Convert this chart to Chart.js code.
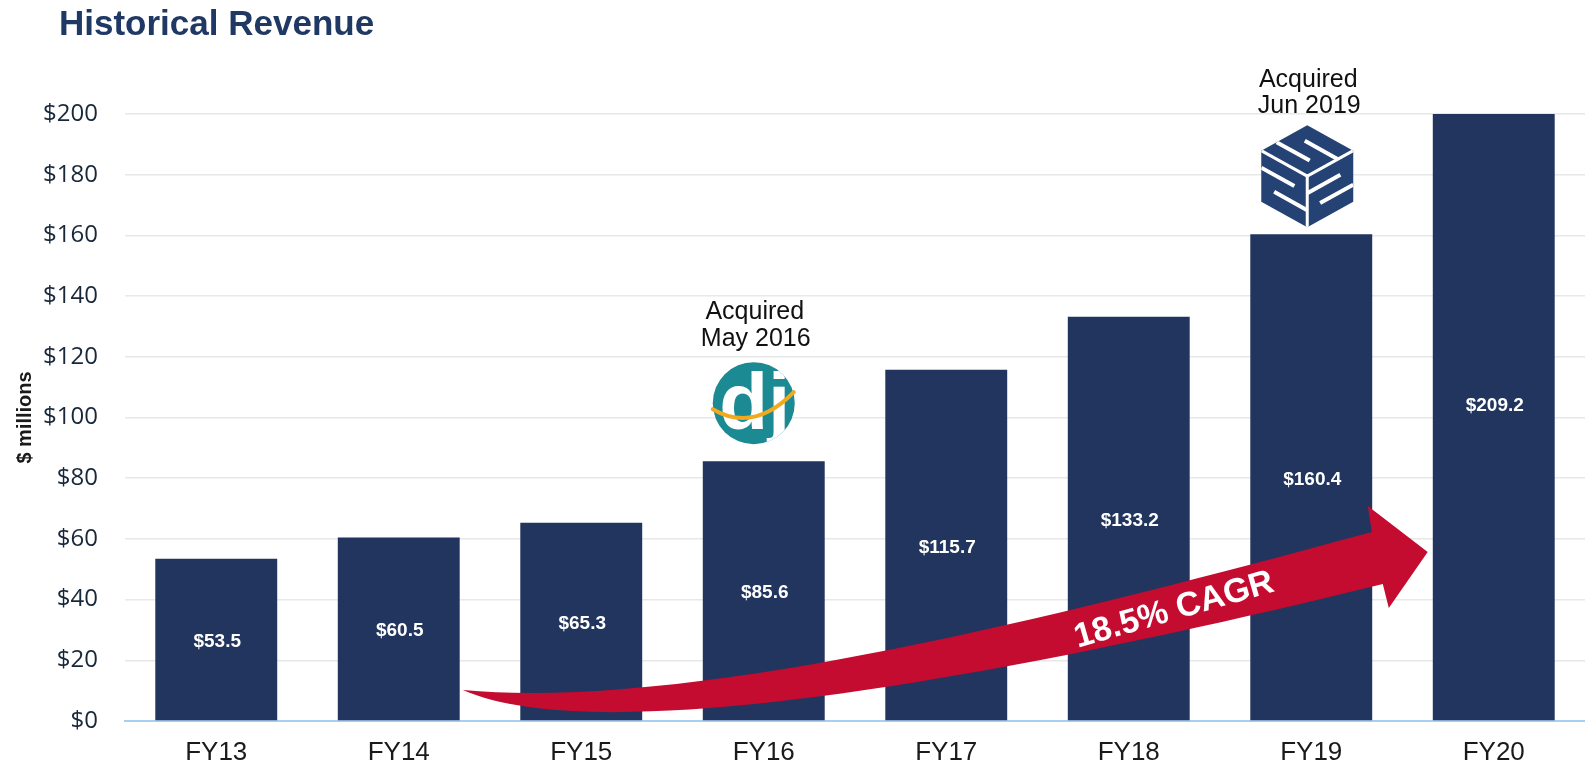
<!DOCTYPE html>
<html>
<head>
<meta charset="utf-8">
<script src="https://cdn.jsdelivr.net/npm/chart.js@4.4.1/dist/chart.umd.min.js"></script>
<style>
html,body{margin:0;padding:0;background:#ffffff;overflow:hidden}
canvas{display:block}
</style>
</head>
<body>
<canvas id="c" width="1585" height="769"></canvas>
<script>
// ---- data ----
const categories = ['FY13', 'FY14', 'FY15', 'FY16', 'FY17', 'FY18', 'FY19', 'FY20'];
const revenue = [53.5, 60.5, 65.3, 85.6, 115.7, 133.2, 160.4, 209.2];
const yTickValues = [0, 20, 40, 60, 80, 100, 120, 140, 160, 180, 200];
const acquisitionCats = ['FY16', 'FY19'];
const acquisitionText = [['Acquired', 'May 2016'], ['Acquired', 'Jun 2019']];
const acquisitionLogos = ['dj', 'sss'];
const cagrText = '18.5% CAGR';
const chartTitle = 'Historical Revenue';
const yAxisTitle = '$ millions';

const SANS = '"Liberation Sans", Arial, sans-serif';
const NAVY = '#21355E';

function fmt(v) { return '$' + v.toFixed(1); }

function drawDj(ctx, cx, cy) {
  ctx.save();
  ctx.beginPath();
  ctx.arc(cx, cy, 41, 0, Math.PI * 2);
  ctx.fillStyle = '#1C8A93';
  ctx.fill();
  ctx.clip();
  ctx.fillStyle = '#ffffff';
  ctx.font = 'bold 80px "Liberation Sans", sans-serif';
  ctx.textAlign = 'center';
  ctx.textBaseline = 'alphabetic';
  ctx.fillText('dj', cx + 1, cy + 26);
  ctx.restore();
  ctx.save();
  ctx.beginPath();
  ctx.moveTo(cx - 41, cy + 6);
  ctx.quadraticCurveTo(cx, cy + 30, cx + 40, cy - 11);
  ctx.strokeStyle = '#F2A91C';
  ctx.lineWidth = 4;
  ctx.lineCap = 'round';
  ctx.stroke();
  ctx.restore();
}

function drawSss(ctx, cx, cy) {
  const ry = 51, rx = 46;
  const V = [
    [cx, cy - ry], [cx + rx, cy - ry / 2], [cx + rx, cy + ry / 2],
    [cx, cy + ry], [cx - rx, cy + ry / 2], [cx - rx, cy - ry / 2]
  ];
  const C = [cx, cy];
  ctx.save();
  ctx.beginPath();
  V.forEach((p, i) => i ? ctx.lineTo(p[0], p[1]) : ctx.moveTo(p[0], p[1]));
  ctx.closePath();
  ctx.fillStyle = '#244273';
  ctx.fill();
  ctx.clip();
  ctx.strokeStyle = '#ffffff';
  ctx.lineCap = 'butt';
  const seg = (a, b, w) => { ctx.lineWidth = w; ctx.beginPath(); ctx.moveTo(a[0], a[1]); ctx.lineTo(b[0], b[1]); ctx.stroke(); };
  // face dividers
  seg(C, V[5], 3);
  seg(C, V[1], 3);
  seg(C, V[3], 3);
  // block "S" slots in each face: origin o, slot offset axis a, slot direction b
  const face = (o, a, b) => {
    const pt = (s, t) => [o[0] + a[0] * s + b[0] * t, o[1] + a[1] * s + b[1] * t];
    seg(pt(1 / 3, 0), pt(1 / 3, 0.72), 4);
    seg(pt(2 / 3, 0.28), pt(2 / 3, 1), 4);
  };
  const sub = (p, q) => [p[0] - q[0], p[1] - q[1]];
  face(V[5], sub(V[0], V[5]), sub(C, V[5]));
  face(V[5], sub(V[4], V[5]), sub(C, V[5]));
  face(C, sub(V[3], C), sub(V[1], C));
  ctx.restore();
}

const annotLayout = [
  { dx: -10, lineDy: [-91, -64] },
  { dx: -4, lineDy: [-96, -70] }
];

const overlay = {
  id: 'overlay',
  afterDatasetsDraw(chart) {
    const ctx = chart.ctx;
    const xs = chart.scales.x, ys = chart.scales.y;
    const P = (i, v) => [xs.getPixelForValue(i), ys.getPixelForValue(v)];

    // value labels in bars
    ctx.save();
    ctx.fillStyle = '#ffffff';
    ctx.font = 'bold 19px ' + SANS;
    ctx.textAlign = 'center';
    ctx.textBaseline = 'middle';
    revenue.forEach((v, i) => {
      ctx.fillText(fmt(v), xs.getPixelForValue(i) + 1, ys.getPixelForValue(v / 2) + 2);
    });
    ctx.restore();

    // CAGR arrow (geometry in category-index / value space)
    const tail = P(1.351, 10.2);
    const u1 = P(2.649, 3.0), u2 = P(4.841, 38.0), uEnd = P(6.332, 62.3);
    const bUp = P(6.310, 70.8), tip = P(6.638, 55.7), bLow = P(6.425, 37.2);
    const lStart = P(6.392, 45.1), l1 = P(4.293, 14.0), l2 = P(2.101, -9.6);
    ctx.save();
    ctx.beginPath();
    ctx.moveTo(tail[0], tail[1]);
    ctx.bezierCurveTo(u1[0], u1[1], u2[0], u2[1], uEnd[0], uEnd[1]);
    ctx.lineTo(bUp[0], bUp[1]);
    ctx.lineTo(tip[0], tip[1]);
    ctx.lineTo(bLow[0], bLow[1]);
    ctx.lineTo(lStart[0], lStart[1]);
    ctx.bezierCurveTo(l1[0], l1[1], l2[0], l2[1], tail[0], tail[1]);
    ctx.closePath();
    ctx.fillStyle = '#C40C30';
    ctx.fill();
    const tc = P(5.247, 36.8);
    ctx.translate(tc[0], tc[1]);
    ctx.rotate(-16 * Math.PI / 180);
    ctx.fillStyle = '#ffffff';
    ctx.font = 'bold 34px ' + SANS;
    ctx.textAlign = 'center';
    ctx.textBaseline = 'middle';
    ctx.fillText(cagrText, 0, 1);
    ctx.restore();

    // acquisition annotations
    acquisitionCats.forEach((cat, k) => {
      const i = categories.indexOf(cat);
      const L = annotLayout[k];
      const bx = xs.getPixelForValue(i);
      const top = ys.getPixelForValue(Math.min(revenue[i], ys.max));
      const lx = bx + L.dx, ly = top - 58;
      if (acquisitionLogos[k] === 'dj') drawDj(ctx, lx, ly); else drawSss(ctx, lx, ly);
      ctx.save();
      ctx.fillStyle = '#111111';
      ctx.font = '25px ' + SANS;
      ctx.textAlign = 'center';
      ctx.textBaseline = 'middle';
      const lines = acquisitionText[k];
      ctx.fillText(lines[0], lx + 1, ly + L.lineDy[0]);
      ctx.fillText(lines[1], lx + 2, ly + L.lineDy[1]);
      ctx.restore();
    });
  },
  afterDraw(chart) {
    const ctx = chart.ctx;
    ctx.save();
    ctx.fillStyle = '#203864';
    ctx.font = 'bold 35px ' + SANS;
    ctx.textAlign = 'left';
    ctx.textBaseline = 'alphabetic';
    ctx.fillText(chartTitle, 59, 35);
    ctx.restore();
    ctx.save();
    const ys = chart.scales.y;
    ctx.translate(31, (ys.top + ys.bottom) / 2);
    ctx.rotate(-Math.PI / 2);
    ctx.fillStyle = '#1a1a1a';
    ctx.font = 'bold 20px ' + SANS;
    ctx.textAlign = 'center';
    ctx.textBaseline = 'alphabetic';
    ctx.fillText(yAxisTitle, 0, 0);
    ctx.restore();
  }
};

new Chart(document.getElementById('c').getContext('2d'), {
  type: 'bar',
  data: {
    labels: categories,
    datasets: [{
      data: revenue,
      backgroundColor: NAVY,
      borderWidth: 0,
      barPercentage: 0.668,
      categoryPercentage: 1.0
    }]
  },
  options: {
    responsive: false,
    animation: false,
    devicePixelRatio: 1,
    layout: { padding: { top: 114, right: 0, left: 0, bottom: 0 } },
    plugins: { legend: { display: false }, tooltip: { enabled: false }, title: { display: false } },
    scales: {
      x: {
        grid: { display: false, drawTicks: false },
        border: { display: true, color: '#A9CFEE', width: 2 },
        ticks: { color: '#1a1a1a', font: { family: SANS, size: 26 }, padding: 16, maxRotation: 0 },
        afterFit(s) { s.height = 48; }
      },
      y: {
        min: 0,
        max: 200,
        afterBuildTicks(s) { s.ticks = yTickValues.map(v => ({ value: v })); },
        ticks: {
          color: '#18283a',
          font: { family: '"Open Sans", sans-serif', size: 24 },
          padding: 27,
          callback: v => '$' + v
        },
        grid: { color: '#E8E8E8', lineWidth: 1.5, drawTicks: false },
        border: { display: false },
        afterFit(s) { s.width = 125; }
      }
    }
  },
  plugins: [overlay]
});
</script>
</body>
</html>
